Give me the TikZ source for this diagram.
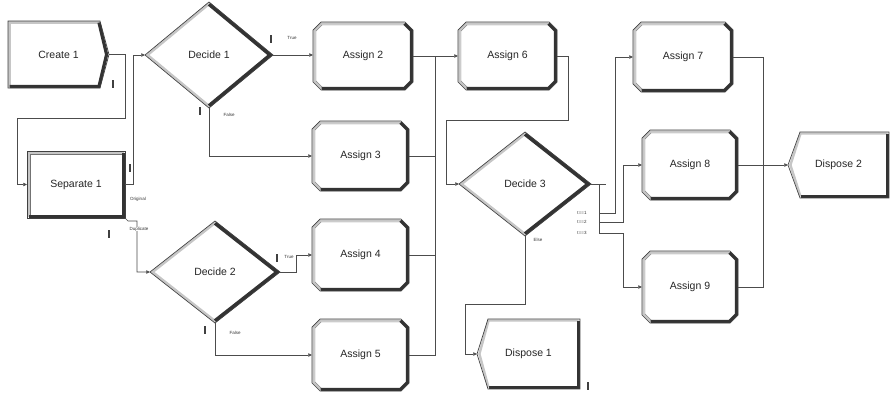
\documentclass[tikz,border=0pt]{standalone}
\usepackage{fontspec}
\setmainfont{Liberation Sans}
\usetikzlibrary{arrows.meta,calc}
\tikzset{
  conn/.style={draw=black!70, line width=0.6pt},
  entry/.style={-{Triangle[length=3.5pt,width=3.5pt]}},
  outline/.style={draw=black!75, line width=0.7pt, line join=miter},
  band/.style={draw=gray!45, line width=2.4pt},
  bandin/.style={draw=black!55, line width=0.4pt},
  heavy/.style={draw=black!80, line width=3.2pt, line join=miter},
  modtext/.style={font=\fontsize{10.5}{12}\selectfont, inner sep=0pt, text=black!85},
  tiny/.style={font=\fontsize{4.5}{5}\selectfont, inner sep=0.3pt, text=black!80, fill=white},
}
% Assign: name x1 y1 x2 y2 text
\newcommand\Asg[6]{%
  \path[fill=white] (#2+8,#3)--(#4-8,#3)--(#4,#3+8)--(#4,#5-8)--(#4-8,#5)--(#2+8,#5)--(#2,#5-8)--(#2,#3+8)--cycle;
  \draw[band] (#2+8.6,#5-1.5)--(#2+1.5,#5-8.6)--(#2+1.5,#3+8.6)--(#2+8.6,#3+1.5)--(#4-8.6,#3+1.5);
  \draw[bandin] (#2+9.2,#5-3)--(#2+3,#5-9.2)--(#2+3,#3+9.2)--(#2+9.2,#3+3)--(#4-9.2,#3+3);
  \draw[heavy] (#4-8.6,#3+1.6)--(#4-1.6,#3+8.6)--(#4-1.6,#5-8.6)--(#4-8.6,#5-1.6)--(#2+8.6,#5-1.6);
  \draw[outline] (#2+8,#3)--(#4-8,#3)--(#4,#3+8)--(#4,#5-8)--(#4-8,#5)--(#2+8,#5)--(#2,#5-8)--(#2,#3+8)--cycle;
  \node[modtext, minimum width=#4-#2, minimum height=#5-#3] (#1) at ({(#2+#4)/2},{(#3+#5)/2}) {#6};
}
% Decide: name cx cy halfwidth halfheight text
\newcommand\Dec[6]{%
  \path[fill=white] (#2-#4,#3)--(#2,#3-#5)--(#2+#4,#3)--(#2,#3+#5)--cycle;
  \draw[band] (#2,#3-#5+2)--(#2-#4+2.6,#3)--(#2,#3+#5-2);
  \draw[heavy, line width=3.6pt] (#2,#3-#5+2.2)--(#2+#4-2.8,#3)--(#2,#3+#5-2.2);
  \draw[outline] (#2-#4,#3)--(#2,#3-#5)--(#2+#4,#3)--(#2,#3+#5)--cycle;
  \node[modtext, minimum width=2*#4, minimum height=2*#5] (#1) at (#2,#3) {#6};
}
% Create: name x1 y1 x2 tip y2 text
\newcommand\Cre[7]{%
  \path[fill=white] (#2,#3)--(#4,#3)--(#5,{(#3+#6)/2})--(#4,#6)--(#2,#6)--cycle;
  \draw[band] (#2+1.5,#6-1.5)--(#2+1.5,#3+1.5)--(#4,#3+1.5);
  \draw[heavy] (#4-1,#3+1.6)--(#5-2.4,{(#3+#6)/2})--(#4-1,#6-1.6)--(#2+1.5,#6-1.6);
  \draw[outline] (#2,#3)--(#4,#3)--(#5,{(#3+#6)/2})--(#4,#6)--(#2,#6)--cycle;
  \node[modtext, minimum width=#5-#2, minimum height=#6-#3] (#1) at ({(#2+#5)/2},{(#3+#6)/2}) {#7};
}
% Separate: name x1 y1 x2 y2 text
\newcommand\Sep[6]{%
  \path[fill=white] (#2,#3) rectangle (#4,#5);
  \draw[band] (#2+1.5,#5-1.5)--(#2+1.5,#3+1.5)--(#4-1.5,#3+1.5);
  \draw[bandin] (#2+3,#5-3)--(#2+3,#3+3)--(#4-3,#3+3);
  \draw[heavy] (#4-1.6,#3+1.5)--(#4-1.6,#5-1.6)--(#2+1.5,#5-1.6);
  \draw[outline] (#2,#3) rectangle (#4,#5);
  \node[modtext, minimum width=#4-#2, minimum height=#5-#3] (#1) at ({(#2+#4)/2},{(#3+#5)/2}) {#6};
}
% Dispose: name tip x1 y1 x2 y2 text
\newcommand\Dsp[7]{%
  \path[fill=white] (#2,{(#4+#6)/2})--(#3,#4)--(#5,#4)--(#5,#6)--(#3,#6)--cycle;
  \draw[band] (#3+0.5,#6-1.5)--(#2+2.4,{(#4+#6)/2})--(#3+0.5,#4+1.5)--(#5-1.5,#4+1.5);
  \draw[heavy] (#5-1.6,#4+1.5)--(#5-1.6,#6-1.6)--(#3+0.5,#6-1.6);
  \draw[outline] (#2,{(#4+#6)/2})--(#3,#4)--(#5,#4)--(#5,#6)--(#3,#6)--cycle;
  \node[modtext, minimum width=#5-#2, minimum height=#6-#4] (#1) at ({(#2+#5)/2},{(#4+#6)/2}) {#7};
}
\newcommand\mk[2]{\fill[black!75] (#1-1,#2-4) rectangle (#1+1,#2+4);}

\begin{document}
\begin{tikzpicture}[x=1pt,y=-1pt]
\fill[white] (0,0) rectangle (891,394);
\useasboundingbox (0,0) rectangle (891,394);

% modules
\Cre{cr}{8}{21}{100}{109}{88}{Create 1}
\Sep{sep}{27}{151}{125}{218}{Separate 1}
\Dec{d1}{209}{55}{64}{53}{Decide 1}
\Dec{d2}{215}{272}{65}{51}{Decide 2}
\Dec{d3}{525}{184}{66}{52}{Decide 3}
\Asg{a2}{313}{22}{413}{90}{Assign 2}
\Asg{a3}{312}{121}{409}{191}{Assign 3}
\Asg{a4}{312}{219}{409}{291}{Assign 4}
\Asg{a5}{312}{319}{409}{391}{Assign 5}
\Asg{a6}{458}{22}{557}{90}{Assign 6}
\Asg{a7}{633}{22}{733}{92}{Assign 7}
\Asg{a8}{642}{130}{738}{200}{Assign 8}
\Asg{a9}{642}{251}{738}{323}{Assign 9}
\Dsp{dp1}{477}{488}{319}{580}{389}{Dispose 1}
\Dsp{dp2}{788}{800}{132}{889}{198}{Dispose 2}

% connectors
\draw[conn,entry] (cr.east) -- ++(16,0) |- (17,118) |- (sep.west);
\draw[conn,entry] (sep.east) -- ++(8,0) |- (d1.west);
\draw[conn,entry] (sep.south east) -- (128,221) -- (137,221) |- (d2.west);
\draw[conn,entry] (d1.east) -- (d1.east -| a2.west);
\draw[conn,entry] (d1.south) |- (a3.west);
\draw[conn,entry] (d2.east) -- ++(16,0) |- (a4.west);
\draw[conn,entry] (d2.south) |- (a5.west);
\coordinate (bus) at (435,56);
\draw[conn,entry] (a2.east) -- (a6.west);
\draw[conn] (a3.east) -| (bus);
\draw[conn] (a4.east) -| (bus);
\draw[conn] (a5.east) -| (bus);
\draw[conn,entry] (a6.east) -- ++(11,0) |- (446,120) |- (d3.west);
\coordinate (s0) at (599,184);
\coordinate (c1) at (599,213);
\coordinate (c2) at (599,222);
\coordinate (c3) at (599,233);
\draw[conn] (d3.east) -- (606,184);
\draw[conn] (s0) -- (c3);
\draw[conn,entry] (c1) -- (615,213) |- (a7.west);
\draw[conn,entry] (c2) -- (623,222) |- (a8.west);
\draw[conn,entry] (c3) -- (623,233) |- (a9.west);
\draw[conn,entry] (d3.south) |- (465,304) |- (dp1.west);
\coordinate (m2) at (763,165);
\draw[conn] (a7.east) -| (m2);
\draw[conn] (a9.east) -| (m2);
\draw[conn,entry] (a8.east) -- (dp2.west);

% exit labels
\node[tiny] at (292,38) {True};
\node[tiny] at (229,115) {False};
\node[tiny] at (138,199) {Original};
\node[tiny] at (139,229) {Duplicate};
\node[tiny] at (289,257) {True};
\node[tiny] at (235,333) {False};
\node[tiny] at (538,240) {Else};
\node[tiny,anchor=east] at (587,213) {t==1};
\node[tiny,anchor=east] at (587,222) {t==2};
\node[tiny,anchor=east] at (587,233) {t==3};

% entity markers
\mk{113}{84}
\mk{271}{39}
\mk{200}{111}
\mk{130}{168}
\mk{109}{234}
\mk{277}{258}
\mk{205}{330}
\mk{588}{386}
\end{tikzpicture}
\end{document}
